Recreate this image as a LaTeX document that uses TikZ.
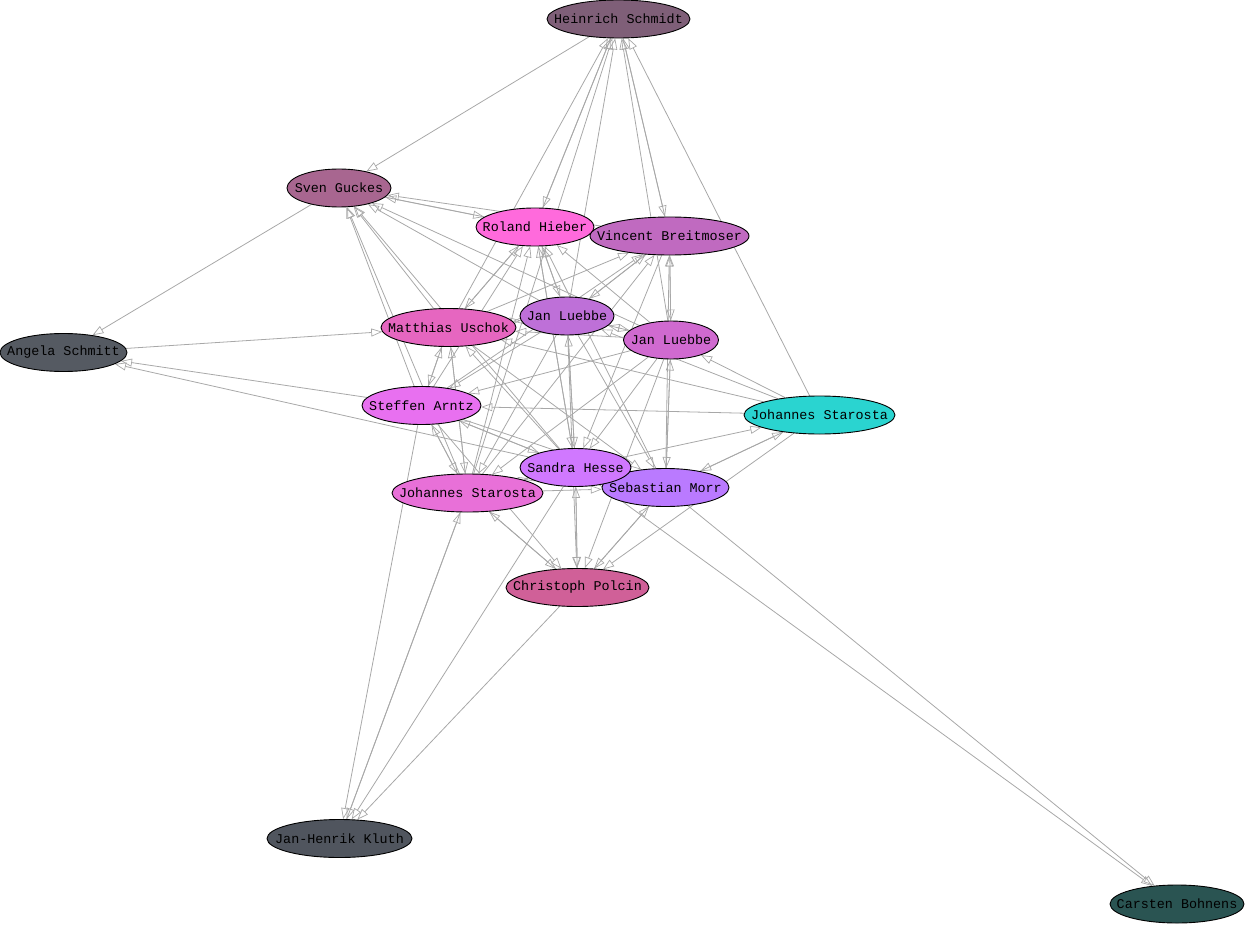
\documentclass[tikz,border=0pt]{standalone}
\usepackage{fontspec}
\setmonofont{Liberation Mono}
\usetikzlibrary{shapes.geometric,arrows.meta,backgrounds}
\definecolor{cHS}{HTML}{7F5F78}
\definecolor{cSG}{HTML}{A86690}
\definecolor{cRH}{HTML}{FF6ADC}
\definecolor{cVB}{HTML}{C06AC0}
\definecolor{cJLa}{HTML}{BE70D8}
\definecolor{cMU}{HTML}{E666C0}
\definecolor{cJLb}{HTML}{D06AD0}
\definecolor{cAS}{HTML}{555A62}
\definecolor{cSA}{HTML}{E870F0}
\definecolor{cJSc}{HTML}{2AD4D0}
\definecolor{cSH}{HTML}{D078FF}
\definecolor{cJSp}{HTML}{E870D8}
\definecolor{cSM}{HTML}{BA7AFF}
\definecolor{cCP}{HTML}{D06098}
\definecolor{cJK}{HTML}{50555E}
\definecolor{cCB}{HTML}{2A5452}
\definecolor{edgegray}{HTML}{A8A8A8}
\newcommand{\pname}[1]{\makebox[0pt]{#1}}
\tikzset{
  person/.style={ellipse, draw=black, line width=0.9pt, inner sep=0pt,
    minimum height=38pt, font=\ttfamily\fontsize{13.4}{13.4}\selectfont, text=black},
  link/.style={draw=edgegray, line width=0.8pt,
    -{Triangle[open, length=11pt, width=8pt, line width=0.7pt]}}
}
\begin{document}
\begin{tikzpicture}[x=1pt,y=-1pt]
\useasboundingbox (0,0) rectangle (1246,925);
\node[person, fill=cHS, minimum width=143pt] (HS) at (618.5,19) {\pname{Heinrich Schmidt}};
\node[person, fill=cSG, minimum width=104pt] (SG) at (339,188) {\pname{Sven Guckes}};
\node[person, fill=cRH, minimum width=118pt] (RH) at (535,227) {\pname{Roland Hieber}};
\node[person, fill=cVB, minimum width=159pt] (VB) at (669.5,236) {\pname{Vincent Breitmoser}};
\node[person, fill=cJLa, minimum width=94pt] (JLa) at (567,316) {\pname{Jan Luebbe}};
\node[person, fill=cMU, minimum width=135pt] (MU) at (448.5,327.5) {\pname{Matthias Uschok}};
\node[person, fill=cJLb, minimum width=95pt] (JLb) at (671,340) {\pname{Jan Luebbe}};
\node[person, fill=cAS, minimum width=127pt] (AS) at (63.5,352.5) {\pname{Angela Schmitt}};
\node[person, fill=cSA, minimum width=119pt] (SA) at (421.5,405.5) {\pname{Steffen Arntz}};
\node[person, fill=cJSc, minimum width=151pt] (JSc) at (819.5,415) {\pname{Johannes Starosta}};
\node[person, fill=cJSp, minimum width=151pt] (JSp) at (467.5,493) {\pname{Johannes Starosta}};
\node[person, fill=cSM, minimum width=127pt] (SM) at (665.5,487.5) {\pname{Sebastian Morr}};
\node[person, fill=cSH, minimum width=111pt] (SH) at (575.5,467.5) {\pname{Sandra Hesse}};
\node[person, fill=cCP, minimum width=143pt] (CP) at (577.5,587.5) {\pname{Christoph Polcin}};
\node[person, fill=cJK, minimum width=145pt] (JK) at (339.5,838.5) {\pname{Jan-Henrik Kluth}};
\node[person, fill=cCB, minimum width=134pt] (CB) at (1177,904) {\pname{Carsten Bohnens}};
\begin{pgfonlayer}{background}
\foreach \a/\b in {HS/SG, SG/AS, AS/MU, SA/AS, SH/AS, SA/JK, JK/JSp, JSp/JK, SH/JK, CP/JK,
  SH/CB, SM/CB, JSc/HS, HS/RH, RH/HS, HS/VB, VB/HS, MU/HS, JLa/HS, JSp/HS, JLb/HS,
  JSc/JLb, JSc/JLa, JSc/SA, JSc/SM, SM/JSc, SH/JSc, JSc/CP, JSc/MU,
  RH/JLa, JLa/RH, RH/MU, MU/RH, SA/RH, RH/SH, SH/RH, JLb/RH, SM/RH, JSp/RH,
  VB/JLa, JLa/VB, VB/JLb, JLb/VB, MU/VB, SM/VB, VB/SH, SA/VB, JSp/VB,
  JLa/SG, JLb/SG, MU/SG, SA/SG, JSp/SG, SH/SG, VB/SG, SG/RH, RH/SG,
  MU/JLa, JLa/MU, MU/SA, SA/MU, MU/JSp, JSp/MU, SH/MU, MU/SM, JLb/MU,
  JLa/SH, SH/JLa, JLa/JLb, JLb/JLa, JLa/SA, JLa/JSp, JLa/SM, JLa/CP,
  JLb/SM, SM/JLb, JLb/SH, JLb/SA, JLb/JSp, JLb/CP,
  SA/JSp, JSp/SA, SA/SH, SH/SA, SA/SM, SA/CP,
  SH/JSp, JSp/SH, SH/CP, CP/SH, JSp/SM, JSp/CP, CP/JSp, SM/CP, CP/SM}
  \draw[link] (\a) -- (\b);
\end{pgfonlayer}
\end{tikzpicture}
\end{document}
